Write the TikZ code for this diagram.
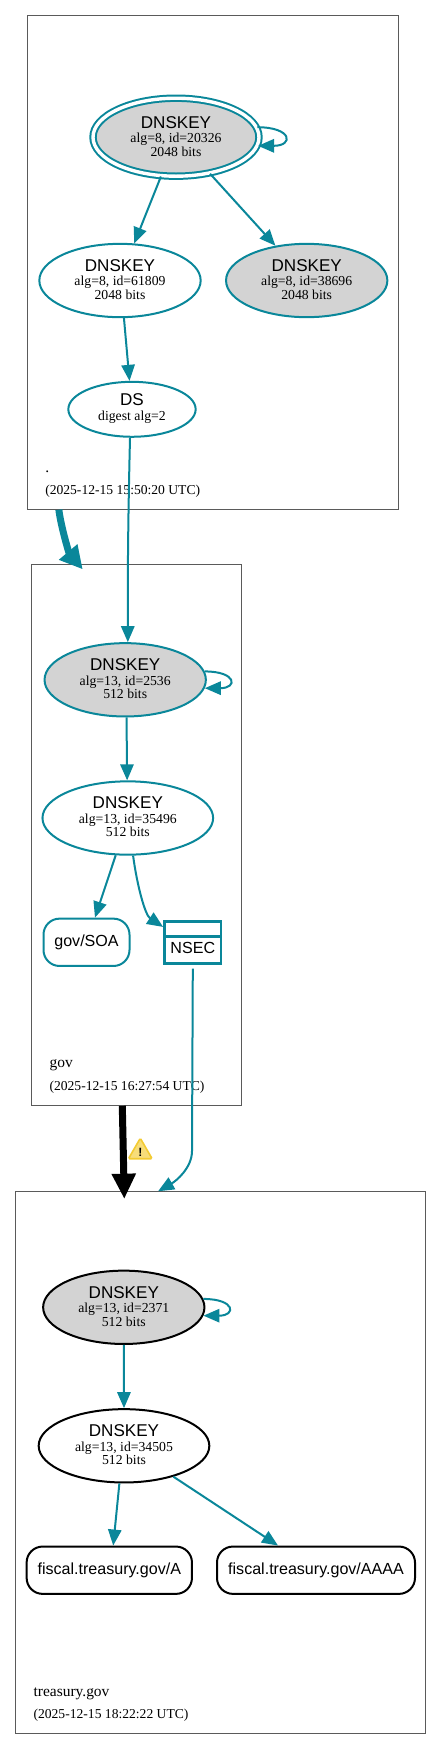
\documentclass[tikz,border=0pt]{standalone}
\usepackage{fontspec}
\setmainfont{Liberation Serif}
\setsansfont{Liberation Sans}
\usetikzlibrary{shapes.geometric,shapes.multipart,arrows.meta,calc}
\definecolor{dnsteal}{RGB}{10,135,154}
\definecolor{zoneline}{RGB}{90,90,90}
\definecolor{sepfill}{RGB}{211,211,211}
\definecolor{warnyellow}{RGB}{243,203,50}
\newcommand{\keylabel}[2]{{\fontsize{12.8pt}{12pt}\selectfont\sffamily DNSKEY}\\[-1.1pt]
  {\fontsize{10.3pt}{10pt}\selectfont #1}\\[-1.9pt]{\fontsize{10.3pt}{10pt}\selectfont #2\rule[-1.5pt]{0pt}{0pt}}}
\tikzset{
  zonebox/.style={rectangle,draw=zoneline,line width=0.8pt,outer sep=0pt,inner sep=0pt},
  zonename/.style={anchor=base west,inner sep=0pt,font=\fontsize{11.6pt}{12pt}\selectfont},
  zonedate/.style={anchor=base west,inner sep=0pt,font=\fontsize{10.2pt}{12pt}\selectfont},
  keynode/.style={ellipse,draw=#1,line width=1.5pt,inner sep=0pt,align=center,
    minimum width=121pt,minimum height=55pt},
  widekey/.style={keynode=#1,minimum width=128pt},
  rrsetbox/.style={rectangle,rounded corners=12pt,draw=#1,line width=1.5pt,inner sep=0pt,
    minimum height=35.5pt,font=\fontsize{12.05pt}{12pt}\selectfont\sffamily},
  nsecbox/.style={rectangle split,rectangle split parts=2,rectangle split ignore empty parts=false,
    rectangle split empty part height=6pt,draw=dnsteal,line width=2pt,inner xsep=0pt,inner ysep=1.5pt,
    minimum width=42.5pt,align=center,font=\fontsize{12.05pt}{12pt}\selectfont\sffamily},
  warnicon/.style={regular polygon,regular polygon sides=3,minimum size=20.5pt,inner sep=0pt,
    rounded corners=1pt,draw=warnyellow,line width=1.2pt,fill=warnyellow!65!white,
    font=\fontsize{9pt}{9pt}\selectfont\sffamily\bfseries},
  dnsedge/.style={-{Triangle[length=12pt,width=10pt]},line width=1.5pt,color=dnsteal},
  zoneedge/.style={-{Triangle[length=#1,width=17pt]},line width=5.25pt},
}
\begin{document}
\begin{tikzpicture}[x=0.75pt,y=-0.75pt]
\useasboundingbox (0,0) rectangle (441,1749);

%% ── root zone ────────────────────────────────────────────────────────────
\node[zonebox,minimum width=277.9pt,minimum height=370.5pt] (zoneroot) at (213.2,262.7) {};
\node[zonename] (nameroot) at (45,472) {.};
\node[zonedate] (dateroot) at (45,494.5) {(2025-12-15 15:50:20 UTC)};
\node[keynode=dnsteal,fill=sepfill,double=white,double distance=2.55pt,
      minimum width=124.5pt,minimum height=58.5pt] (key20326) at (176,137.2)
      {\keylabel{alg=8, id=20326}{2048 bits}};
\node[keynode=dnsteal] (key61809) at (120,280.5) {\keylabel{alg=8, id=61809}{2048 bits}};
\node[keynode=dnsteal,fill=sepfill] (key38696) at (306.7,280.5)
      {\keylabel{alg=8, id=38696}{2048 bits}};
\node[keynode=dnsteal,minimum width=95.5pt,minimum height=41.2pt] (dsroot) at (132,409.3)
      {{\fontsize{12.8pt}{12pt}\selectfont\sffamily DS}\\[-1.1pt]{\fontsize{10.3pt}{10pt}\selectfont digest alg=2\rule[-3pt]{0pt}{0pt}}};

%% ── gov zone ─────────────────────────────────────────────────────────────
\node[zonebox,minimum width=157.2pt,minimum height=406.3pt] (zonegov) at (136.5,834.9) {};
\node[zonename] (namegov) at (49.3,1067) {gov};
\node[zonedate] (dategov) at (49.3,1090.5) {(2025-12-15 16:27:54 UTC)};
\node[keynode=dnsteal,fill=sepfill] (key2536) at (125.2,679.8)
      {\keylabel{alg=13, id=2536}{512 bits}};
\node[widekey=dnsteal] (key35496) at (127.8,818) {\keylabel{alg=13, id=35496}{512 bits}};
\node[rrsetbox=dnsteal,minimum width=64.5pt] (soagov) at (86.5,942.3) {gov/SOA};
\node[nsecbox] (nsecgov) at (192.8,942.7) {\nodepart{two}\rule[-5.2pt]{0pt}{15.6pt}NSEC};

%% ── treasury.gov zone ────────────────────────────────────────────────────
\node[zonebox,minimum width=307.5pt,minimum height=407pt] (zonetreasury) at (220.7,1462.6) {};
\node[zonename] (nametreasury) at (33.3,1696) {treasury.gov};
\node[zonedate] (datetreasury) at (33.3,1718.5) {(2025-12-15 18:22:22 UTC)};
\node[keynode=black,fill=sepfill] (key2371) at (123.8,1307.3)
      {\keylabel{alg=13, id=2371}{512 bits}};
\node[widekey=black] (key34505) at (124,1445.8) {\keylabel{alg=13, id=34505}{512 bits}};
\node[rrsetbox=black,minimum width=124pt] (afiscal) at (109.3,1570.2) {fiscal.treasury.gov/A};
\node[rrsetbox=black,minimum width=148.5pt] (aaaafiscal) at (316,1570.2) {fiscal.treasury.gov/AAAA};

%% ── Relationships ────────────────────────────────────────────────────────
\coordinate (govin) at (82.7,569.3);
\coordinate (treasuryin) at (124.3,1199);
% delegations
\draw[zoneedge=17pt,color=dnsteal] (zoneroot.-122.8) .. controls (61,527) and (69,553) .. (govin);
\draw[zoneedge=19pt,color=black] (zonegov.-93.1) -- (treasuryin);
\node[warnicon] (warning) at (140.3,1151.9) {!};
% root
\draw[dnsedge] (key20326.7) .. controls +(35,0) and +(36,0) .. (key20326.-6);
\draw[dnsedge] (key20326.-111.3) -- (key61809.69.1);
\draw[dnsedge] (key20326.-47.5) -- (key38696.132.6);
\draw[dnsedge] (key61809.-84.4) -- (dsroot.95.6);
\draw[dnsedge] (dsroot.-94) .. controls (128.5,500) and (127.6,560) .. (key2536.86.7);
% gov
\draw[dnsedge] (key2536.6.5) .. controls +(32,0) and +(33,0) .. (key2536.-6.6);
\draw[dnsedge] (key2536.-88.8) -- (key35496.91.7);
\draw[dnsedge] (key35496.-108.8) -- (soagov.71.6);
\draw[dnsedge] (key35496.-82.7) .. controls (137,885) and (145,915) .. (nsecgov.152);
\draw[dnsedge] ($(nsecgov.south)+(0,3.5)$) -- (192,1151) .. controls (192,1168) and (176,1181) .. (zonetreasury.103.5);
% treasury.gov
\draw[dnsedge] (key2371.6.5) .. controls +(32,0) and +(33,0) .. (key2371.-6.6);
\draw[dnsedge] (key2371.-90) -- (key34505.90);
\draw[dnsedge] (key34505.-97.5) -- (afiscal.81.7);
\draw[dnsedge] (key34505.-32.6) -- (aaaafiscal.147);

\end{tikzpicture}
\end{document}
